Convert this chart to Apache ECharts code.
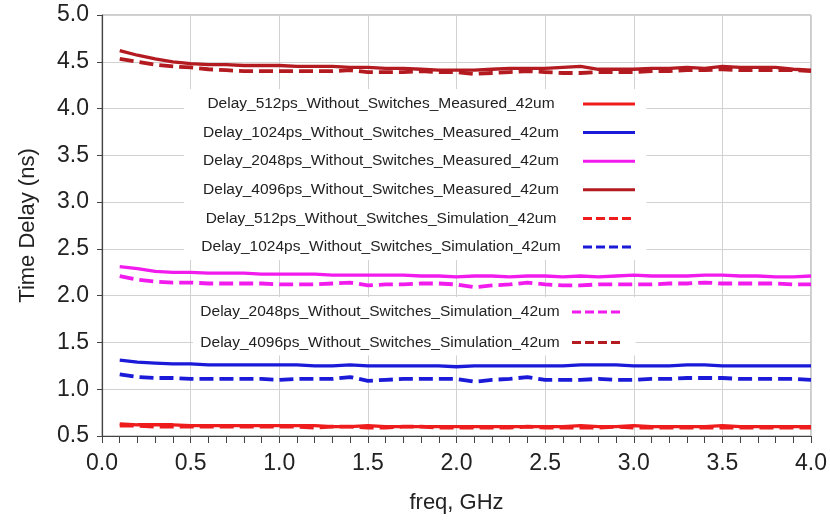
<!DOCTYPE html>
<html>
<head>
<meta charset="utf-8">
<title>Time Delay vs Frequency</title>
<script src="https://cdn.jsdelivr.net/npm/echarts@6/dist/echarts.min.js"></script>
<style>
  html, body { margin: 0; padding: 0; background: #fff; }
  #chart { width: 830px; height: 524px; }
</style>
</head>
<body>
<div id="chart"></div>
<script>
// Frequency sweep points (GHz)
const freq = [0.1, 0.2, 0.3, 0.4, 0.5, 0.6, 0.7, 0.8, 0.9, 1.0,
              1.1, 1.2, 1.3, 1.4, 1.5, 1.6, 1.7, 1.8, 1.9, 2.0,
              2.1, 2.2, 2.3, 2.4, 2.5, 2.6, 2.7, 2.8, 2.9, 3.0,
              3.1, 3.2, 3.3, 3.4, 3.5, 3.6, 3.7, 3.8, 3.9, 4.0];

// Measured delays (ns)
const meas512 = [0.63, 0.62, 0.62, 0.62, 0.61, 0.61, 0.61, 0.61, 0.61, 0.61,
                 0.61, 0.61, 0.60, 0.60, 0.61, 0.60, 0.60, 0.60, 0.60, 0.60,
                 0.60, 0.60, 0.60, 0.60, 0.60, 0.60, 0.61, 0.60, 0.60, 0.61,
                 0.60, 0.60, 0.60, 0.60, 0.61, 0.60, 0.60, 0.60, 0.60, 0.60];
const meas1024 = [1.31, 1.29, 1.28, 1.27, 1.27, 1.26, 1.26, 1.26, 1.26, 1.26,
                  1.26, 1.25, 1.25, 1.26, 1.25, 1.25, 1.25, 1.25, 1.25, 1.24,
                  1.25, 1.25, 1.25, 1.25, 1.25, 1.25, 1.26, 1.26, 1.26, 1.25,
                  1.25, 1.25, 1.26, 1.26, 1.25, 1.25, 1.25, 1.25, 1.25, 1.25];
const meas2048 = [2.31, 2.29, 2.26, 2.25, 2.25, 2.24, 2.24, 2.24, 2.23, 2.23,
                  2.23, 2.23, 2.22, 2.22, 2.22, 2.22, 2.22, 2.21, 2.21, 2.20,
                  2.21, 2.21, 2.20, 2.21, 2.21, 2.20, 2.21, 2.20, 2.21, 2.22,
                  2.21, 2.21, 2.21, 2.22, 2.22, 2.21, 2.21, 2.20, 2.20, 2.21];
const meas4096 = [4.62, 4.57, 4.53, 4.50, 4.48, 4.47, 4.47, 4.46, 4.46, 4.46,
                  4.45, 4.45, 4.45, 4.44, 4.44, 4.43, 4.43, 4.42, 4.41, 4.41,
                  4.41, 4.42, 4.43, 4.43, 4.43, 4.44, 4.45, 4.42, 4.42, 4.42,
                  4.43, 4.43, 4.44, 4.43, 4.45, 4.44, 4.44, 4.44, 4.42, 4.41];

// Simulated delays (ns)
const sim512 = [0.61, 0.61, 0.60, 0.60, 0.60, 0.60, 0.60, 0.60, 0.60, 0.60,
                0.60, 0.59, 0.60, 0.60, 0.59, 0.59, 0.60, 0.60, 0.59, 0.59,
                0.59, 0.59, 0.59, 0.60, 0.59, 0.59, 0.59, 0.59, 0.60, 0.59,
                0.59, 0.59, 0.59, 0.59, 0.59, 0.59, 0.59, 0.59, 0.59, 0.59];
const sim1024 = [1.16, 1.13, 1.12, 1.12, 1.11, 1.11, 1.11, 1.11, 1.11, 1.10,
                 1.11, 1.11, 1.11, 1.13, 1.09, 1.10, 1.11, 1.11, 1.11, 1.11,
                 1.08, 1.10, 1.11, 1.13, 1.10, 1.10, 1.10, 1.11, 1.10, 1.10,
                 1.11, 1.11, 1.12, 1.12, 1.12, 1.11, 1.11, 1.11, 1.11, 1.10];
const sim2048 = [2.21, 2.17, 2.15, 2.14, 2.14, 2.13, 2.13, 2.13, 2.13, 2.12,
                 2.12, 2.12, 2.13, 2.14, 2.11, 2.12, 2.12, 2.13, 2.13, 2.12,
                 2.09, 2.11, 2.12, 2.14, 2.12, 2.11, 2.11, 2.12, 2.12, 2.12,
                 2.12, 2.13, 2.13, 2.14, 2.13, 2.13, 2.13, 2.13, 2.12, 2.12];
const sim4096 = [4.53, 4.50, 4.47, 4.45, 4.44, 4.42, 4.41, 4.40, 4.40, 4.40,
                 4.40, 4.40, 4.40, 4.41, 4.39, 4.39, 4.39, 4.40, 4.39, 4.39,
                 4.37, 4.38, 4.39, 4.40, 4.39, 4.38, 4.38, 4.39, 4.39, 4.39,
                 4.40, 4.40, 4.41, 4.41, 4.42, 4.41, 4.41, 4.41, 4.41, 4.40];

// Series names as shown in the legend
const names = [
  'Delay_512ps_Without_Switches_Measured_42um',
  'Delay_1024ps_Without_Switches_Measured_42um',
  'Delay_2048ps_Without_Switches_Measured_42um',
  'Delay_4096ps_Without_Switches_Measured_42um',
  'Delay_512ps_Without_Switches_Simulation_42um',
  'Delay_1024ps_Without_Switches_Simulation_42um',
  'Delay_2048ps_Without_Switches_Simulation_42um',
  'Delay_4096ps_Without_Switches_Simulation_42um'
];
const values = [meas512, meas1024, meas2048, meas4096, sim512, sim1024, sim2048, sim4096];
const colors = ['#ee1c1c', '#1a1ad8', '#f21bee', '#b31b20', '#ee1c1c', '#1a1ad8', '#f21bee', '#b31b20'];

const xTicks = [0, 4, 0.5];   // min, max, step (GHz)
const yTicks = [0.5, 5, 0.5]; // min, max, step (ns)

const axisFont = "'Liberation Sans', Arial, sans-serif";
const legendFont = "'Liberation Sans', Arial, sans-serif";

const isSim = i => i >= 4;

const series = names.map((name, i) => ({
  name: name,
  type: 'line',
  symbol: 'none',
  smooth: false,
  data: freq.map((f, k) => [f, values[i][k]]),
  lineStyle: {
    color: colors[i],
    width: isSim(i) ? 3.8 : 3.3,
    type: isSim(i) ? [14, 6] : 'solid'
  },
  itemStyle: { color: colors[i] },
  z: isSim(i) ? 2 : 3
}));

// Legend entries: line sample only (no marker), shorter dashes for the simulated traces
function legendEntries(idx) {
  return idx.map(i => ({
    name: names[i],
    itemStyle: { color: 'rgba(0,0,0,0)', borderColor: 'rgba(0,0,0,0)', borderWidth: 0 },
    lineStyle: { color: colors[i], width: 3, type: isSim(i) ? [9, 4] : 'solid' }
  }));
}

function legendBlock(idx, left, top, gap, boxWidth) {
  return {
    data: legendEntries(idx),
    orient: 'vertical',
    left: left,
    top: top,
    align: 'right',
    itemWidth: 52,
    itemHeight: 14,
    itemGap: gap,
    padding: [7, 10, 5, 0],
    backgroundColor: '#ffffff',
    selectedMode: false,
    itemStyle: { color: 'rgba(0,0,0,0)', borderColor: 'rgba(0,0,0,0)', borderWidth: 0 },
    formatter: n => '{t|' + n + '}',
    textStyle: {
      color: '#222',
      fontFamily: legendFont,
      fontSize: 15.5,
      rich: {
        t: { width: boxWidth, align: 'center', fontFamily: legendFont, fontSize: 15.5, color: '#222', lineHeight: 16 }
      }
    }
  };
}

const chart = echarts.init(document.getElementById('chart'), null, { renderer: 'canvas' });
chart.setOption({
  animation: false,
  backgroundColor: '#ffffff',
  grid: {
    left: 102, right: 18, top: 15, bottom: 88,
    show: true, borderColor: '#9a9a9a', borderWidth: 1
  },
  legend: [
    legendBlock([0, 1, 2, 3, 4, 5], 184, 89, 12.6, 394),
    legendBlock([6, 7], 193, 297, 14.5, 374)
  ],
  xAxis: {
    type: 'value',
    min: xTicks[0], max: xTicks[1], interval: xTicks[2],
    name: 'freq, GHz',
    nameLocation: 'middle',
    nameGap: 56,
    nameTextStyle: { fontFamily: axisFont, fontSize: 22, color: '#222' },
    axisLine: { show: true, lineStyle: { color: '#444', width: 1.2 } },
    axisTick: { show: true, length: 7, lineStyle: { color: '#444' } },
    minorTick: { show: true, splitNumber: 5, length: 7, lineStyle: { color: '#444' } },
    axisLabel: {
      fontFamily: axisFont, fontSize: 23, color: '#222', margin: 16,
      formatter: v => v.toFixed(1)
    },
    splitLine: { show: true, lineStyle: { color: '#d2d2d2', width: 1 } }
  },
  yAxis: {
    type: 'value',
    min: yTicks[0], max: yTicks[1], interval: yTicks[2],
    name: 'Time Delay (ns)',
    nameLocation: 'middle',
    nameGap: 63,
    nameTextStyle: { fontFamily: axisFont, fontSize: 22, color: '#222' },
    axisLine: { show: true, lineStyle: { color: '#444', width: 1.2 } },
    axisTick: { show: true, length: 5, lineStyle: { color: '#444' } },
    axisLabel: {
      fontFamily: axisFont, fontSize: 23, color: '#222', margin: 13,
      formatter: v => v.toFixed(1)
    },
    splitLine: { show: true, lineStyle: { color: '#d2d2d2', width: 1 } }
  },
  series: series
});
</script>
</body>
</html>
